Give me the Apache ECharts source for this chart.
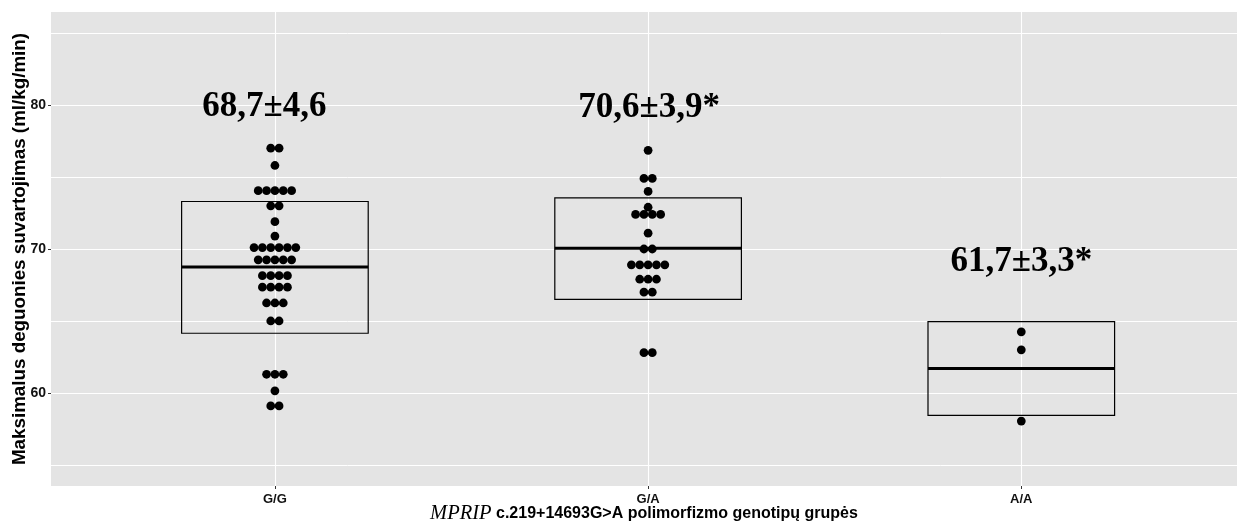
<!DOCTYPE html>
<html>
<head>
<meta charset="utf-8">
<script src="https://cdn.jsdelivr.net/npm/echarts@6/dist/echarts.min.js"></script>
<style>
html,body{margin:0;padding:0;background:#fff;}
#chart{width:1237px;height:528px;}
</style>
</head>
<body>
<div id="chart"></div>
<script>
// ---- data ----
const categories = ['G/G', 'G/A', 'A/A'];
const valuesGG = [77.0, 77.0, 75.8, 74.05, 74.05, 74.05, 74.05, 74.05, 73.0, 73.0, 71.9, 70.9,
  70.1, 70.1, 70.1, 70.1, 70.1, 70.1, 69.25, 69.25, 69.25, 69.25, 69.25,
  68.15, 68.15, 68.15, 68.15, 67.35, 67.35, 67.35, 67.35, 66.25, 66.25, 66.25,
  65.0, 65.0, 61.3, 61.3, 61.3, 60.15, 59.1, 59.1];
const valuesGA = [76.85, 74.9, 74.9, 74.0, 72.9, 72.4, 72.4, 72.4, 72.4, 71.1, 70.0, 70.0,
  68.9, 68.9, 68.9, 68.9, 68.9, 67.9, 67.9, 67.9, 67.0, 67.0, 62.8, 62.8];
const valuesAA = [64.25, 63.0, 58.05];
const boxLow = [64.15, 66.5, 58.45];
const boxMean = [68.75, 70.05, 61.7];
const boxHigh = [73.3, 73.55, 64.95];
const statLabels = ['68,7±4,6', '70,6±3,9*', '61,7±3,3*'];
const statLabelY = [79.9, 79.85, 69.1];
const yTicks = [60, 70, 80];
const yMinorTicks = [55, 65, 75, 85];

// ---- styling constants ----
const binWidth = 0.58;      // dot diameter in y units
const boxHalf = 0.25;       // half box width in category units
const labelDx = [-10.5, 1, 0];
const groups = [valuesGG, valuesGA, valuesAA];

// build dot items with stack index
const dotData = [];
groups.forEach((vals, gi) => {
  const counts = {};
  vals.forEach(v => { counts[v] = (counts[v] || 0) + 1; });
  const seen = {};
  vals.forEach(v => {
    const k = seen[v] || 0;
    seen[v] = k + 1;
    dotData.push([gi + 1, v, k, counts[v]]);
  });
});
const boxData = categories.map((c, i) => [i + 1, boxLow[i], boxMean[i], boxHigh[i]]);
const labelData = categories.map((c, i) => [i + 1, statLabelY[i], i]);

const chart = echarts.init(document.getElementById('chart'), null, {renderer: 'canvas'});
const tickColor = '#333';
const option = {
  animation: false,
  backgroundColor: '#ffffff',
  grid: {left: 51, right: 0, top: 12, bottom: 42, show: true, backgroundColor: '#E4E4E4', borderWidth: 0,
    containLabel: false, outerBoundsMode: 'none'},
  xAxis: {
    type: 'value', min: 0.4, max: 3.578,
    axisLine: {show: false},
    axisTick: {show: true, length: 3, lineStyle: {color: tickColor, width: 1}, customValues: [1, 2, 3]},
    axisLabel: {
      customValues: [1, 2, 3],
      formatter: v => categories[Math.round(v) - 1] || '',
      fontFamily: 'Liberation Sans', fontWeight: 'bold', fontSize: 13, color: '#111', margin: 7
    },
    splitLine: {show: true, lineStyle: {color: '#ffffff', width: 1.1}},
    name: '{i|MPRIP}{b| c.219+14693G>A polimorfizmo genotipų grupės}',
    nameLocation: 'middle', nameGap: 18, nameMoveOverlap: false,
    nameTextStyle: {
      rich: {
        i: {fontFamily: 'Liberation Serif', fontStyle: 'italic', fontSize: 20.5, color: '#000'},
        b: {fontFamily: 'Liberation Sans', fontWeight: 'bold', fontSize: 16, color: '#000'}
      }
    }
  },
  yAxis: [{
    type: 'value', min: 53.54, max: 86.46,
    axisLine: {show: false},
    axisTick: {show: true, length: 3, lineStyle: {color: tickColor, width: 1}, customValues: yTicks},
    axisLabel: {customValues: yTicks, fontFamily: 'Liberation Sans', fontWeight: 'bold', fontSize: 14, color: '#111', margin: 5},
    splitLine: {show: true, lineStyle: {color: '#ffffff', width: 1.1}},
    name: 'Maksimalus deguonies suvartojimas (ml/kg/min)',
    nameLocation: 'middle', nameRotate: 90, nameGap: 22, nameMoveOverlap: false,
    nameTextStyle: {fontFamily: 'Liberation Sans', fontWeight: 'bold', fontSize: 18.8, color: '#000'}
  }, {
    type: 'value', min: 53.54, max: 86.46, position: 'left',
    axisLine: {show: false}, axisTick: {show: false, customValues: yMinorTicks},
    axisLabel: {show: false, customValues: yMinorTicks},
    splitLine: {show: true, lineStyle: {color: '#ffffff', width: 1}}
  }],
  series: [{
    type: 'custom', name: 'box', data: boxData, z: 2,
    encode: {x: 0, y: [1, 2, 3]},
    renderItem: function (params, api) {
      const x = api.value(0), lo = api.value(1), m = api.value(2), hi = api.value(3);
      const a = api.coord([x - boxHalf, hi]);
      const b = api.coord([x + boxHalf, lo]);
      const mm = api.coord([x, m]);
      return {type: 'group', children: [
        {type: 'rect', shape: {x: a[0], y: a[1], width: b[0] - a[0], height: b[1] - a[1]},
          style: {fill: null, stroke: '#000', lineWidth: 1.2}},
        {type: 'line', shape: {x1: a[0], y1: mm[1], x2: b[0], y2: mm[1]},
          style: {stroke: '#000', lineWidth: 3}}
      ]};
    }
  }, {
    type: 'custom', name: 'dots', data: dotData, z: 3,
    encode: {x: 0, y: 1},
    renderItem: function (params, api) {
      const x = api.value(0), y = api.value(1), k = api.value(2), n = api.value(3);
      const p = api.coord([x, y]);
      const d = api.size([0, binWidth])[1];
      return {type: 'circle', shape: {cx: p[0] + (k - (n - 1) / 2) * d, cy: p[1], r: d / 2 + 0.2},
        style: {fill: '#000'}};
    }
  }, {
    type: 'custom', name: 'labels', data: labelData, z: 4,
    encode: {x: 0, y: 1},
    renderItem: function (params, api) {
      const i = api.value(2);
      const p = api.coord([api.value(0), api.value(1)]);
      return {type: 'text', x: p[0] + labelDx[i], y: p[1], scaleX: 1.13, scaleY: 1.18,
        style: {text: statLabels[i], x: 0, y: 0, align: 'center', verticalAlign: 'middle',
          font: 'bold 31px "Liberation Serif"', fill: '#000'}};
    }
  }]
};
chart.setOption(option);
</script>
</body>
</html>
